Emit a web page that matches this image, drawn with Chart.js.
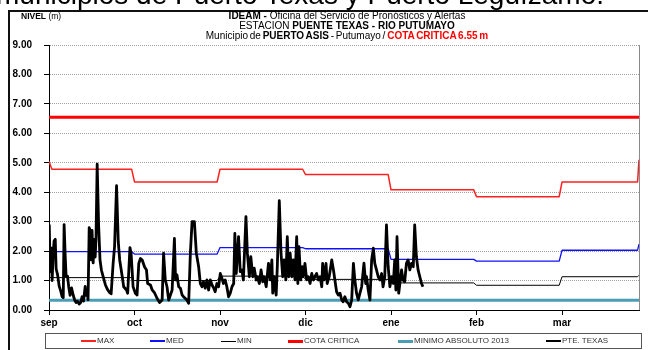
<!DOCTYPE html>
<html>
<head>
<meta charset="utf-8">
<script src="https://cdn.jsdelivr.net/npm/chart.js@4/dist/chart.umd.min.js"></script>
<style>
  html, body { margin: 0; padding: 0; background: #fff; }
  #wrap { position: relative; width: 648px; height: 350px; overflow: hidden; font-family: "Liberation Sans", Arial, sans-serif; }
  #c { position: absolute; left: 0; top: 0; }
  .abs { position: absolute; white-space: nowrap; }
  #frame { position: absolute; left: 8px; top: 10px; width: 700px; height: 400px; border: 2px solid #111; box-sizing: border-box; }
  #headline { left: -4px; top: -19px; font-size: 28px; line-height: 28px; color: #000; }
  #title { left: 147px; top: 10.5px; width: 400px; text-align: center; font-size: 10px; line-height: 10.2px; color: #000; }
  #title b { font-weight: bold; }
  #nivel { left: 21px; top: 11px; font-size: 8.5px; line-height: 10px; color: #000; }
  #legendBox { position: absolute; left: 45px; top: 333px; width: 597px; height: 16px; border: 1px solid #555; box-sizing: border-box; }
  .lg-line { position: absolute; width: 15px; }
  .lg-text { position: absolute; font-size: 8px; line-height: 10px; color: #333; top: 336px; }
</style>
</head>
<body>
<div id="wrap">
  <canvas id="c" width="648" height="350"></canvas>
  <div id="headline" class="abs">municipios de Puerto Texas y Puerto Leguízamo.</div>
  <div id="frame"></div>
  <div id="nivel" class="abs"><b>NIVEL</b> (m)</div>
  <div id="title" class="abs">
    <div><b>IDEAM -</b> Oficina del Servicio de Pronósticos y Alertas</div>
    <div>ESTACION <b>PUENTE TEXAS - RIO PUTUMAYO</b></div>
    <div style="word-spacing:-1px">Municipio de <b>PUERTO ASIS</b> - Putumayo / <b style="color:#ff0000">COTA CRITICA 6.55 m</b></div>
  </div>
  <div id="legendBox"></div>
  <div id="legend"></div>
</div>
<script>
// Month labels; each tick on the time axis is 30 days apart.
const months = ['sep', 'oct', 'nov', 'dic', 'ene', 'feb', 'mar'];
const daysPerMonth = 30;
const lastDay = 207;

// Monthly historical levels (m) for the station.
const maxLevels = [4.78, 4.35, 4.78, 4.60, 4.08, 3.85, 4.35];
const medLevels = [1.98, 1.90, 2.12, 2.08, 1.72, 1.66, 2.03];
const minLevels = [1.10, 1.00, 1.15, 1.04, 0.92, 0.84, 1.13];
// Values at the first and last day of the period.
const maxEdges = [5.05, 5.10];
const medEdges = [2.17, 2.24];
const minEdges = [1.10, 1.18];

const cotaCritica = 6.55;
const minimoAbsoluto2013 = 0.33;

// PTE. TEXAS readings: day offset from 1 September, and level (m).
const texasDay = [
  0.1,0.4,0.8,1.1,1.5,1.8,2.2,2.5,3.0,3.6,4.1,4.6,5.0,5.3,5.7,6.0,6.5,6.9,7.4,7.9,
  8.5,9.0,9.5,10.0,10.6,11.1,11.6,12.1,12.7,13.0,13.4,13.7,14.1,14.4,14.8,15.1,15.5,15.8,16.2,16.5,
  16.9,17.4,17.9,18.4,19.1,19.8,20.5,21.2,21.8,
  22.5,23.0,23.7,24.3,24.8,25.7,26.2,27.2,27.6,28.4,28.8,29.5,30.3,30.9,31.5,32.1,32.7,33.5,34.2,34.6,
  35.6,36.2,37.1,37.9,38.8,39.7,40.2,40.8,41.4,42.0,43.2,44.0,44.4,44.9,45.5,46.1,46.7,47.2,48.4,49.0,
  49.6,50.2,51.0,51.7,52.5,53.1,53.7,54.2,54.8,55.4,56.0,56.6,57.2,57.8,58.3,58.9,59.5,60.1,60.7,61.2,
  61.8,62.4,63.0,63.6,64.2,64.8,65.2,65.7,66.5,67.1,
  67.7,68.2,69.1,69.6,70.3,70.8,71.5,72.0,72.7,73.1,73.8,74.4,75.0,75.5,76.2,77.0,77.6,78.2,78.5,79.0,
  79.7,80.1,80.8,81.4,82.0,82.5,83.1,83.6,84.1,84.6,85.2,85.7,86.3,86.9,87.3,87.7,88.3,88.9,89.2,89.8,
  90.4,91.0,91.6,92.2,92.8,93.3,93.9,94.5,95.1,95.7,96.0,96.5,97.2,97.6,98.3,99.2,99.8,100.3,100.9,101.5,
  102.1,102.7,103.2,103.8,104.4,105.0,105.6,106.2,106.8,107.3,107.9,108.5,
  109.1,109.7,110.5,111.1,111.4,112.0,112.6,113.2,113.8,114.3,114.9,115.5,116.1,116.7,117.2,117.8,118.4,119.0,119.6,120.2,
  120.8,121.3,121.7,122.1,122.7,123.1,123.7,124.2,124.8,125.4,126.0,126.6,127.2,127.8,128.3,128.9,129.5,130.1,130.7,131.2
];
const texasLevel = [
  2.9,1.3,2.1,1.0,2.0,2.35,2.4,1.4,1.2,0.8,0.65,0.45,0.42,2.9,1.8,1.15,1.15,0.8,0.5,0.75,
  0.5,0.34,0.25,0.3,0.2,0.25,0.45,0.3,0.8,0.5,0.65,0.35,2.8,2.7,1.7,2.7,1.6,2.4,1.8,2.45,
  4.95,2.9,1.7,1.35,1.1,0.85,0.7,0.6,0.55,
  1.58,2.15,4.22,2.32,1.7,1.13,0.79,0.68,0.57,2.12,1.93,0.79,0.57,0.51,1.58,1.75,1.7,1.47,1.36,0.9,
  0.85,0.68,0.57,0.4,0.25,0.34,1.93,1.02,0.79,0.34,0.68,2.43,1.02,1.19,0.79,0.74,0.51,0.45,0.34,0.23,
  1.93,3.0,3.0,1.93,1.47,0.9,0.79,0.96,0.74,1.02,0.68,1.02,0.85,0.74,0.62,0.9,0.79,1.24,1.07,0.9,
  1.02,0.79,0.45,0.57,0.79,0.9,2.6,1.24,2.49,1.3,
  1.36,1.02,3.17,1.93,1.13,1.81,1.13,1.42,1.02,1.13,0.9,1.36,0.96,1.13,0.79,1.58,1.02,1.7,0.57,1.13,
  0.51,1.47,3.71,1.93,1.13,1.7,1.02,2.49,1.13,1.93,1.13,1.7,1.02,2.49,0.9,2.15,1.02,1.47,1.13,1.58,
  1.02,1.13,0.9,1.24,1.02,1.13,1.24,1.02,1.13,0.79,1.58,1.02,1.58,0.9,1.13,1.7,1.36,1.02,0.62,0.51,
  0.57,0.34,0.28,0.45,0.28,0.23,0.11,0.34,1.58,1.02,0.57,0.34,
  0.57,0.79,1.59,0.9,1.13,0.68,0.34,1.7,2.1,1.58,1.36,1.13,1.02,1.24,0.79,1.13,2.89,1.47,0.79,1.13,
  0.9,1.7,0.68,2.49,0.57,0.9,1.36,1.02,0.96,1.58,1.7,1.36,1.58,1.47,2.89,1.81,1.36,1.13,0.9,0.79
];

// Step series: constant within each month, one-day ramps between months.
function monthlySteps(levels, edges) {
  const pts = [{ x: 0, y: edges[0] }, { x: 1, y: levels[0] }];
  levels.forEach((v, i) => {
    if (i > 0) pts.push({ x: i * daysPerMonth, y: v });
    const end = i === levels.length - 1 ? lastDay - 0.5 : i * daysPerMonth + daysPerMonth - 1;
    pts.push({ x: end, y: v });
  });
  pts.push({ x: lastDay, y: edges[1] });
  return pts;
}
const constantLine = v => [{ x: 0, y: v }, { x: lastDay, y: v }];
const texasPoints = texasDay.map((d, i) => ({ x: d, y: texasLevel[i] }));

const FONT = '"Liberation Sans", Arial, sans-serif';

const series = [
  { label: 'PTE. TEXAS', data: texasPoints, color: '#000000', width: 2.8 },
  { label: 'MINIMO ABSOLUTO 2013', data: constantLine(minimoAbsoluto2013), color: '#4a9db5', width: 3 },
  { label: 'COTA CRITICA', data: constantLine(cotaCritica), color: '#ff0000', width: 3 },
  { label: 'MIN', data: monthlySteps(minLevels, minEdges), color: '#000000', width: 1 },
  { label: 'MED', data: monthlySteps(medLevels, medEdges), color: '#1010ff', width: 1.3 },
  { label: 'MAX', data: monthlySteps(maxLevels, maxEdges), color: '#ff2020', width: 1.5 }
];

// Thin grey frame on the right edge of the plot area.
const rightEdge = {
  id: 'rightEdge',
  beforeDatasetsDraw(chart) {
    const { ctx, chartArea: a } = chart;
    ctx.save();
    ctx.strokeStyle = '#8a8a8a';
    ctx.lineWidth = 1;
    ctx.beginPath();
    ctx.moveTo(Math.round(a.right) + 0.5, a.top);
    ctx.lineTo(Math.round(a.right) + 0.5, a.bottom);
    ctx.stroke();
    ctx.restore();
  }
};

new Chart(document.getElementById('c'), {
  type: 'line',
  data: {
    datasets: series.map(s => ({
      label: s.label,
      data: s.data,
      borderColor: s.color,
      backgroundColor: s.color,
      borderWidth: s.width,
      pointRadius: 0,
      tension: 0,
      fill: false,
      borderJoinStyle: 'round'
    }))
  },
  options: {
    responsive: false,
    animation: false,
    events: [],
    layout: { padding: { left: 0, top: 45, right: 9, bottom: 0 } },
    plugins: { legend: { display: false }, title: { display: false }, tooltip: { enabled: false } },
    scales: {
      x: {
        type: 'linear',
        min: 0,
        max: lastDay,
        afterBuildTicks: s => { s.ticks = months.map((m, i) => ({ value: i * daysPerMonth })); },
        afterFit: s => { s.height = 40; },
        ticks: {
          autoSkip: false,
          maxRotation: 0,
          padding: 2,
          color: '#000',
          font: { family: FONT, size: 10, weight: 'bold' },
          callback: v => months[Math.round(v / daysPerMonth)]
        },
        grid: { drawOnChartArea: false, drawTicks: true, tickLength: 5, tickColor: '#000', tickWidth: 1 },
        border: { color: '#000', width: 1 }
      },
      y: {
        min: 0,
        max: 9,
        afterFit: s => { s.width = 49; },
        ticks: {
          stepSize: 1,
          padding: 12,
          color: '#000',
          font: { family: FONT, size: 10, weight: 'bold' },
          callback: v => v.toFixed(2)
        },
        grid: { color: '#a0a0a0', lineWidth: 1, tickLength: 5, tickColor: '#000', tickWidth: 1, tickBorderDash: [] },
        border: { color: '#000', width: 1, dash: [1, 1] }
      }
    }
  },
  plugins: [rightEdge]
});

// Legend strip below the axis.
const legendItems = [
  { label: 'MAX', color: '#ff2020', width: 1.5, at: 81 },
  { label: 'MED', color: '#1010ff', width: 1.3, at: 150 },
  { label: 'MIN', color: '#000000', width: 1, at: 221 },
  { label: 'COTA CRITICA', color: '#ff0000', width: 3, at: 288 },
  { label: 'MINIMO ABSOLUTO 2013', color: '#4a9db5', width: 3, at: 398 },
  { label: 'PTE. TEXAS', color: '#000000', width: 2.8, at: 546 }
];
const legend = document.getElementById('legend');
legendItems.forEach(it => {
  const line = document.createElement('div');
  line.className = 'lg-line';
  line.style.left = it.at + 'px';
  line.style.top = (341 - it.width / 2) + 'px';
  line.style.height = it.width + 'px';
  line.style.background = it.color;
  legend.appendChild(line);
  const txt = document.createElement('div');
  txt.className = 'lg-text';
  txt.style.left = (it.at + 16) + 'px';
  txt.textContent = it.label;
  legend.appendChild(txt);
});
</script>
</body>
</html>
